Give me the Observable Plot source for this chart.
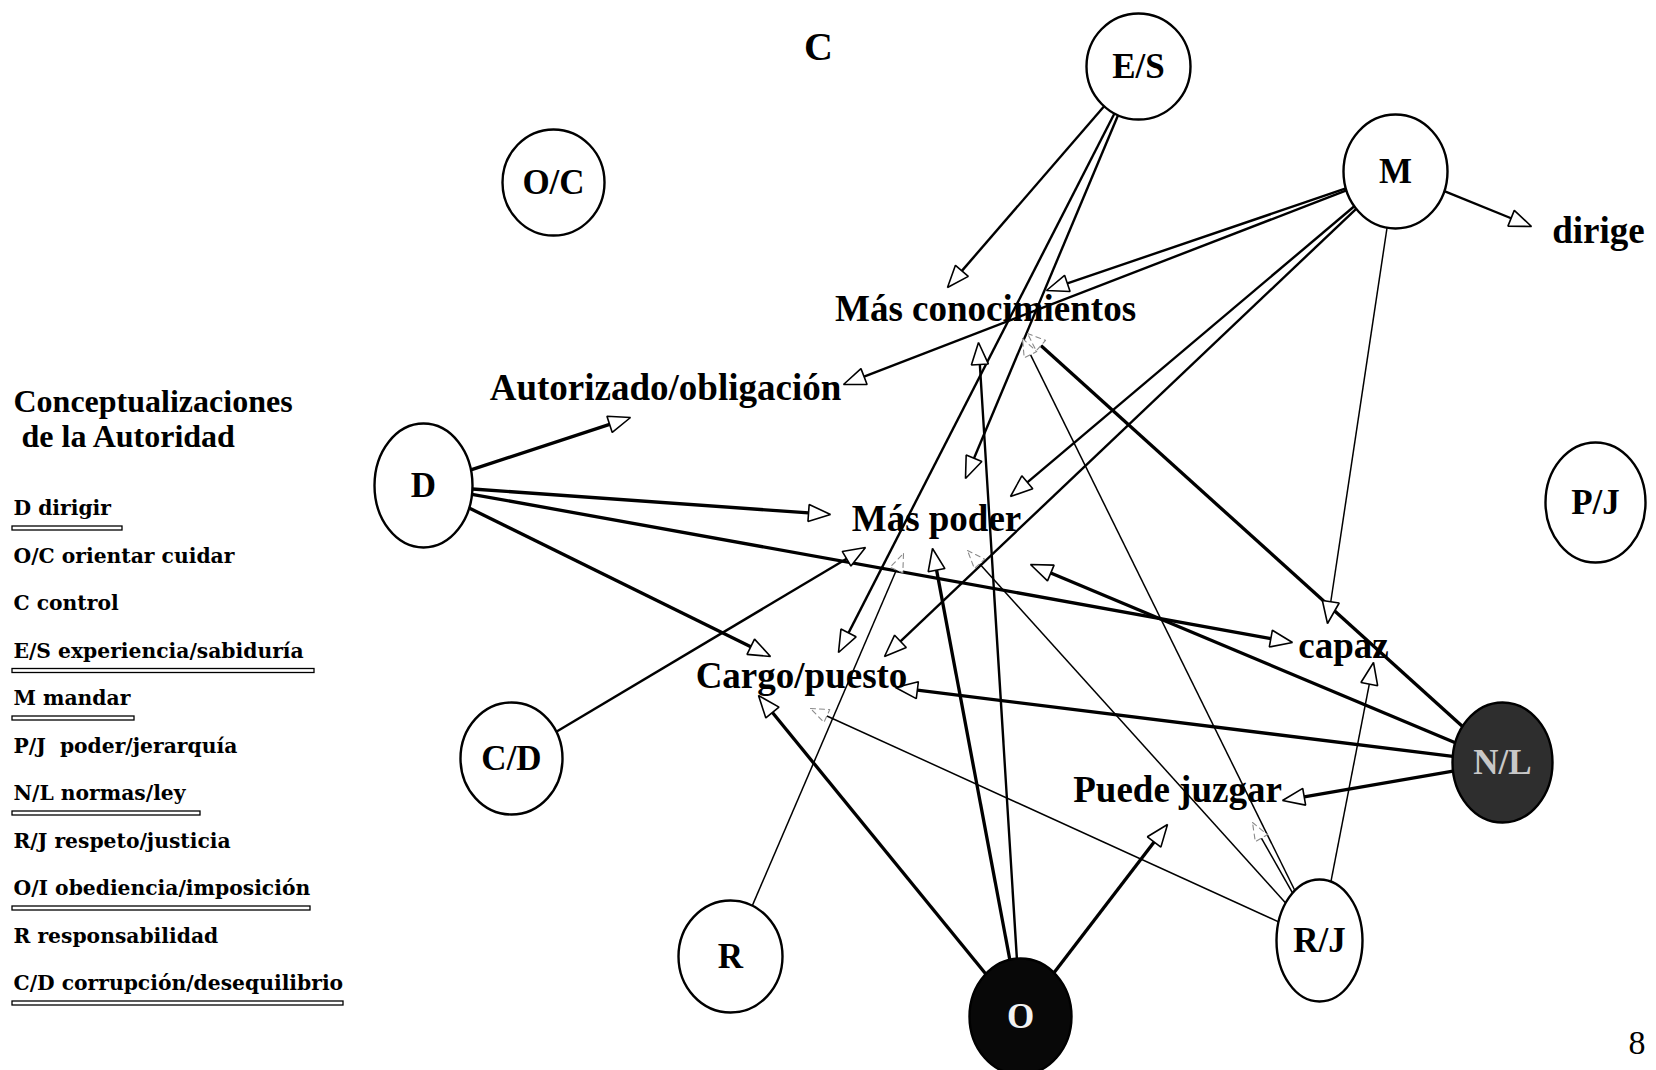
<!DOCTYPE html>
<html><head><meta charset="utf-8">
<script src="https://cdn.jsdelivr.net/npm/d3@7"></script>
<script src="https://cdn.jsdelivr.net/npm/@observablehq/plot@0.6"></script>
<style>html,body{margin:0;padding:0;background:#fff;} #chart svg{display:block}</style>
</head><body><div id="chart"></div>
<script>
const W = 1656, H = 1070;

// ---- Nodes (circled concepts) ----
const nodeIds   = ["E/S","O/C","M","D","P/J","C/D","R","O","R/J","N/L"];
const nodeX     = [1138, 553, 1395, 423, 1595, 511, 730, 1020, 1319, 1502];
const nodeY     = [66, 182, 171, 485, 502, 758, 956, 1016, 940, 762];
const nodeRx    = [52, 51, 52, 49, 50, 51, 52, 51, 43, 50];
const nodeRy    = [53, 53, 57, 62, 60, 56, 56, 58, 61, 60];
const nodeTone  = ["light","light","light","light","light","light","light","black","light","gray"];

// ---- Free-standing concept labels ----
const conceptLabels = ["C","Más conocimientos","Autorizado/obligación","Más poder","Cargo/puesto","capaz","Puede juzgar","dirige"];
const conceptX      = [818, 985, 665, 936, 801, 1343, 1177, 1598];
const conceptY      = [47, 309, 388, 519, 676, 646, 790, 231];

// ---- Edges (from node -> arrow tip at concept) ----
const edgeFrom   = ["E/S","E/S","E/S","M","M","M","M","M","M","D","D","D","D","C/D","R","O","O","O","O","R/J","R/J","R/J","R/J","R/J","N/L","N/L","N/L","N/L"];
const edgeTo     = ["Más conocimientos","Cargo/puesto","Más poder","Más conocimientos","Autorizado/obligación","Más poder","Cargo/puesto","capaz","dirige","Autorizado/obligación","Más poder","capaz","Cargo/puesto","Más poder","Más poder","Cargo/puesto","Más poder","Más conocimientos","Puede juzgar","Más conocimientos","Más poder","Cargo/puesto","Puede juzgar","capaz","Más conocimientos","Más poder","Cargo/puesto","Puede juzgar"];
const edgeTipX   = [947, 838, 965, 1046, 843, 1010, 884, 1327, 1531, 630, 830, 1292, 770, 865, 903, 758, 932, 978, 1167, 1022, 967, 810, 1252, 1373, 1027, 1030, 895, 1282];
const edgeTipY   = [287, 652, 478, 290, 384, 496, 656, 623, 226, 417, 514, 642, 656, 547, 553, 695, 548, 342, 824, 338, 550, 708, 822, 662, 333, 564, 687, 800];
const edgeWeight = ["medium","medium","medium","medium","medium","medium","medium","thin","medium","thick","thick","thick","thick","medium","thin","thick","thick","medium","thick","thin","thin","thin","thin","thin","thick","thick","thick","thick"];
const edgeHead   = ["solid","solid","solid","solid","solid","solid","solid","solid","solid","solid","solid","solid","solid","solid","faint","solid","solid","solid","solid","faint","faint","faint","faint","solid","faint","solid","solid","solid"];

// ---- Legend ----
const legendTitle = ["Conceptualizaciones", " de la Autoridad"];
const legendItems = ["D dirigir","O/C orientar cuidar","C control","E/S experiencia/sabiduría","M mandar","P/J  poder/jerarquía","N/L normas/ley","R/J respeto/justicia","O/I obediencia/imposición","R responsabilidad","C/D corrupción/desequilibrio"];
const legendUnderlineEnd = [122, null, null, 314, 134, null, 200, null, 310, null, 343];
const pageNumber = "8";

// ---- build tables ----
const nodes = nodeIds.map((id,i)=>({id, x:nodeX[i], y:nodeY[i], rx:nodeRx[i], ry:nodeRy[i], tone:nodeTone[i]}));
const concepts = conceptLabels.map((t,i)=>({label:t, x:conceptX[i], y:conceptY[i]}));
const edges = edgeFrom.map((f,i)=>({id:i, from:f, to:edgeTo[i], tx:edgeTipX[i], ty:edgeTipY[i], weight:edgeWeight[i], head:edgeHead[i]}));
const widthOf = {thick:3.3, medium:2.4, thin:1.5};
const nodeById = new Map(nodes.map(n=>[n.id,n]));

const links = [], heads = [];
for (const e of edges) {
  const n = nodeById.get(e.from);
  const dx = e.tx - n.x, dy = e.ty - n.y, len = Math.hypot(dx,dy);
  const ux = dx/len, uy = dy/len;
  const t = 1/Math.sqrt((ux/n.rx)**2 + (uy/n.ry)**2);
  const L = e.head === "faint" ? 18 : 22, Wd = e.head === "faint" ? 7 : 8.5;
  const bx = e.tx - ux*L, by = e.ty - uy*L;
  links.push({sx:n.x+ux*t, sy:n.y+uy*t, bx, by, sw:widthOf[e.weight], head:e.head});
  const nx = -uy, ny = ux;
  heads.push({id:e.id, head:e.head, x:e.tx, y:e.ty});
  heads.push({id:e.id, head:e.head, x:bx+nx*Wd, y:by+ny*Wd});
  heads.push({id:e.id, head:e.head, x:bx-nx*Wd, y:by-ny*Wd});
}

function ellipseSymbol(k){
  return {draw(ctx, size){
    const rx = Math.sqrt(size/Math.PI), ry = rx*k, c = 0.5523;
    ctx.moveTo(rx,0);
    ctx.bezierCurveTo(rx, ry*c, rx*c, ry, 0, ry);
    ctx.bezierCurveTo(-rx*c, ry, -rx, ry*c, -rx, 0);
    ctx.bezierCurveTo(-rx, -ry*c, -rx*c, -ry, 0, -ry);
    ctx.bezierCurveTo(rx*c, -ry, rx, -ry*c, rx, 0);
    ctx.closePath();
  }};
}
const toneFill = {light:"white", black:"#080808", gray:"#2e2e2e"};
const toneText = {light:"black", black:"#f2f2f2", gray:"#c8c8c8"};

const legendRows = legendItems.map((t,i)=>({label:t, y:508 + i*47.5, end:legendUnderlineEnd[i]}));
const underlines = legendRows.filter(d=>d.end!=null).map(d=>({x1:12, x2:d.end, y1:d.y+18, y2:d.y+22}));
const titleRows = legendTitle.map((t,i)=>({label:t, y:401 + i*35}));

const serif = "Liberation Serif, Times New Roman, serif";

const chart = Plot.plot({
  width: W, height: H, margin: 0,
  x: {domain:[0,W], range:[0,W], axis:null},
  y: {domain:[0,H], range:[0,H], axis:null},
  style: {background:"white"},
  marks: [
    Plot.link(links, {x1:"sx", y1:"sy", x2:"bx", y2:"by", stroke:"black", strokeWidth:"sw", strokeLinecap:"butt"}),
    Plot.line(heads.filter(d=>d.head==="solid"), {x:"x", y:"y", z:"id", curve:"linear-closed", fill:"white", stroke:"black", strokeWidth:1.6, strokeLinejoin:"miter"}),
    Plot.line(heads.filter(d=>d.head==="faint"), {x:"x", y:"y", z:"id", curve:"linear-closed", fill:"white", stroke:"#8a8a8a", strokeWidth:1.1, strokeDasharray:"5,4"}),
    ...nodes.map(n => Plot.dot([n], {x:"x", y:"y", r:n.rx, symbol:ellipseSymbol(n.ry/n.rx), fill:toneFill[n.tone], stroke:"black", strokeWidth:2.4})),
    ...["light","black","gray"].map(tone => Plot.text(nodes.filter(n=>n.tone===tone), {x:"x", y:"y", text:"id", fill:toneText[tone], fontFamily:serif, fontWeight:"bold", fontSize:35})),
    Plot.text(concepts, {x:"x", y:"y", text:"label", fill:"black", fontFamily:serif, fontWeight:"bold", fontSize:d=>d.label==="C"?40:37}),
    Plot.text(titleRows, {x:13, y:"y", text:"label", textAnchor:"start", fill:"black", fontFamily:serif, fontWeight:"bold", fontSize:32}),
    Plot.text(legendRows, {x:13, y:"y", text:"label", textAnchor:"start", fill:"black", fontFamily:"DejaVu Serif, serif", fontWeight:"bold", fontSize:20.3}),
    Plot.rect(underlines, {x1:"x1", x2:"x2", y1:"y1", y2:"y2", fill:"white", stroke:"black", strokeWidth:1.3}),
    Plot.text([pageNumber], {x:1628, y:1043, text:d=>d, textAnchor:"start", fill:"black", fontFamily:serif, fontSize:34})
  ]
});
document.getElementById("chart").appendChild(chart);
</script>
</body></html>
